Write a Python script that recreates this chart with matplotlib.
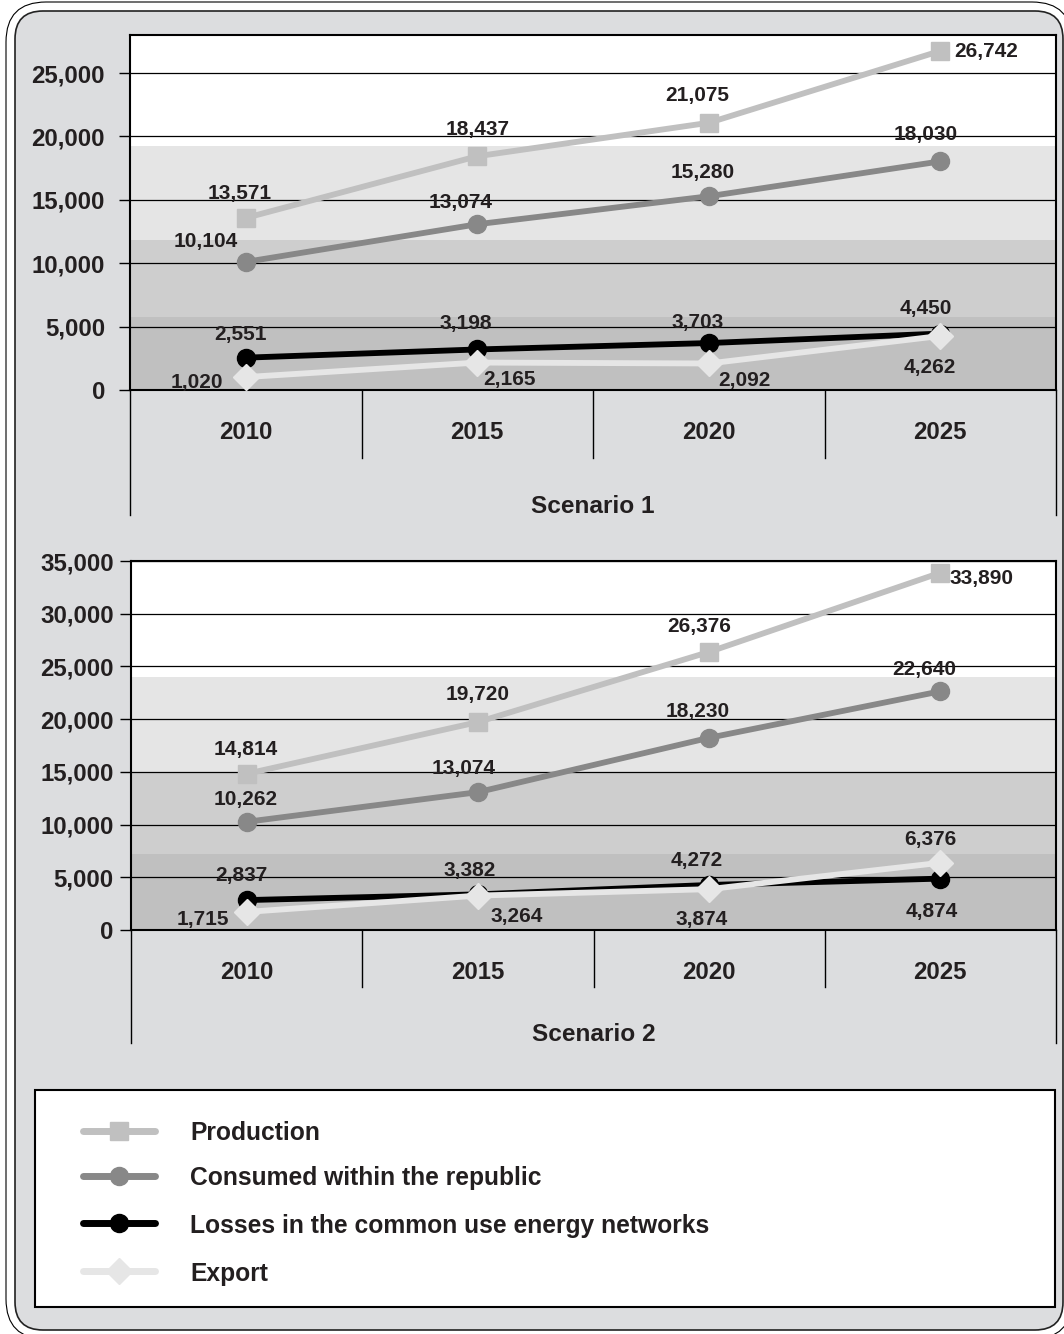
import numpy as np
import matplotlib.pyplot as plt
import matplotlib.transforms as mtransforms
from matplotlib.patches import FancyBboxPatch, Rectangle
from matplotlib.ticker import FuncFormatter

plt.rcParams['font.family'] = ['Liberation Sans', 'DejaVu Sans']
plt.rcParams['font.weight'] = 'bold'

# data
years = ['2010', '2015', '2020', '2025']
series_names = ['Production', 'Consumed within the republic',
                'Losses in the common use energy networks', 'Export']

s1_production = [13571, 18437, 21075, 26742]
s1_consumed = [10104, 13074, 15280, 18030]
s1_losses = [2551, 3198, 3703, 4450]
s1_export = [1020, 2165, 2092, 4262]

s2_production = [14814, 19720, 26376, 33890]
s2_consumed = [10262, 13074, 18230, 22640]
s2_losses = [2837, 3382, 4272, 4874]
s2_export = [1715, 3264, 3874, 6376]

# shaded background bands (value limits)
s1_bands = [0, 5760, 11830, 19250]
s2_bands = [0, 7200, 14900, 24000]

# style
W, H = 1064, 1334
TEXT = '#231f20'
BG = '#dcdddf'
band_colors = ['#c0c0c0', '#cecece', '#e5e5e5']
colors = ['#c0c0c0', '#888888', '#000000', '#e6e6e6']
markers = ['s', 'o', 'o', 'D']
msizes = [13.5, 13, 13, 13]

# label offsets in pixels (dx, dy) for each series / point
s1_offsets = [
    [(-6, 26), (0, 29), (-11, 29), (46, 1)],
    [(-40, 22), (-17, 24), (-6, 26), (-15, 29)],
    [(-5, 25), (-11, 28), (-11, 23), (-14, 27)],
    [(-49, -3), (32, -15), (36, -15), (-10, -30)],
]
s2_offsets = [
    [(-1, 26), (0, 30), (-10, 27), (41, -4)],
    [(-1, 24), (-14, 26), (-11, 28), (-16, 24)],
    [(-5, 27), (-8, 26), (-12, 26), (-9, -31)],
    [(-44, -6), (39, -19), (-7, -28), (-10, 25)],
]

fig = plt.figure(figsize=(W / 100, H / 100), dpi=100)
fig.patch.set_facecolor('white')

# frame
bg = fig.add_axes([0, 0, 1, 1])
bg.set_xlim(0, W)
bg.set_ylim(H, 0)
bg.axis('off')
bg.add_patch(FancyBboxPatch((6, 2), 1066, 1337, boxstyle='round,pad=0,rounding_size=40',
                            fc='white', ec='black', lw=0.8))
bg.add_patch(FancyBboxPatch((15, 11), 1048, 1319, boxstyle='round,pad=0,rounding_size=28',
                            fc=BG, ec='#222222', lw=1.2))
bg.add_patch(Rectangle((35, 1090), 1020, 217, fc='white', ec='black', lw=1.5))


def draw_scenario(box, values, bands, ymax, offsets, title, sep_px, side_px, title_px, ypad):
    left, top, right, bottom = box
    h = bottom - top
    ax = fig.add_axes([left / W, 1 - bottom / H, (right - left) / W, h / H])
    ax.set_facecolor('white')
    for lo, hi, c in zip(bands[:-1], bands[1:], band_colors):
        ax.axhspan(lo, hi, color=c, lw=0, zorder=0)

    x = np.arange(len(years))
    for vals, c, m, ms, offs in zip(values, colors, markers, msizes, offsets):
        ax.plot(x, vals, color=c, lw=4.2, marker=m, ms=ms, mec=c, zorder=3,
                solid_capstyle='round')
        for xi, v, (dx, dy) in zip(x, vals, offs):
            ax.annotate(f'{v:,}', (xi, v), xytext=(dx, dy), textcoords='offset pixels',
                        ha='center', va='center_baseline', fontsize=15,
                        color=TEXT, zorder=5)

    ax.set_xlim(-0.5, len(years) - 0.5)
    ax.set_ylim(0, ymax)
    ax.set_yticks(np.arange(0, ymax + 1, 5000))
    ax.yaxis.set_major_formatter(FuncFormatter(lambda v, p: f'{v:,.0f}'))
    ax.set_axisbelow(True)
    ax.yaxis.grid(True, color='black', lw=0.9)
    ax.tick_params(axis='y', direction='out', length=8, width=1, pad=ypad,
                   labelsize=17.3, labelcolor=TEXT)
    ax.set_xticks(x)
    ax.set_xticklabels(years)
    ax.tick_params(axis='x', length=0, pad=22.5, labelsize=17.3, labelcolor=TEXT)
    for s in ax.spines.values():
        s.set_linewidth(1.5)
        s.set_color('black')

    # category area below the plot
    tr = mtransforms.blended_transform_factory(ax.transData, ax.transAxes)
    for b in x[:-1] + 0.5:
        ax.plot([b, b], [0, -sep_px / h], color='black', lw=1, transform=tr, clip_on=False)
    for b in [x[0] - 0.5, x[-1] + 0.5]:
        ax.plot([b, b], [0, -side_px / h], color='black', lw=1, transform=tr, clip_on=False)
    ax.text(0.5, -title_px / h, title, transform=ax.transAxes, ha='center',
            va='center_baseline', fontsize=17.6, color=TEXT)
    return ax


draw_scenario((130, 35, 1056, 390),
              [s1_production, s1_consumed, s1_losses, s1_export],
              s1_bands, 28000, s1_offsets, 'Scenario 1', 68, 125, 114, 10)
draw_scenario((131, 561, 1056, 930),
              [s2_production, s2_consumed, s2_losses, s2_export],
              s2_bands, 35000, s2_offsets, 'Scenario 2', 57, 113, 102, 4.5)

# legend
leg_rows = [1131, 1176, 1223, 1271]
for name, c, m, ms, y in zip(series_names, colors, markers, msizes, leg_rows):
    bg.plot([83, 155], [y, y], color=c, lw=5, solid_capstyle='round')
    bg.plot([119], [y], marker=m, ms=ms, color=c, mec=c)
    bg.text(190, y, name, ha='left', va='center_baseline', fontsize=17.7, color=TEXT)

fig.savefig('out.png', dpi=100, facecolor='white')
